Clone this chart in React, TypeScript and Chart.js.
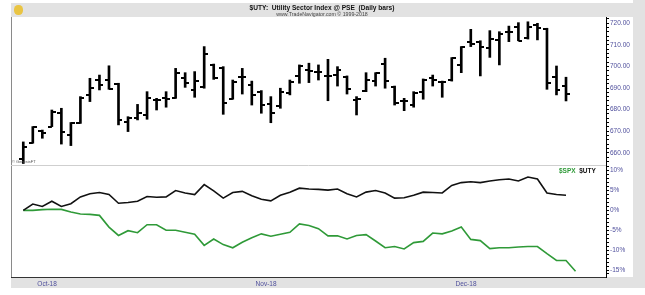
import React, { useEffect, useRef } from 'react';
import { Chart, registerables } from 'chart.js';

Chart.register(...registerables);

// Trading dates (last one only carries an S&P 500 value)
const dates = [
  '2018-09-26', '2018-09-27', '2018-09-28',
  '2018-10-01', '2018-10-02', '2018-10-03', '2018-10-04', '2018-10-05',
  '2018-10-08', '2018-10-09', '2018-10-10', '2018-10-11', '2018-10-12',
  '2018-10-15', '2018-10-16', '2018-10-17', '2018-10-18', '2018-10-19',
  '2018-10-22', '2018-10-23', '2018-10-24', '2018-10-25', '2018-10-26',
  '2018-10-29', '2018-10-30', '2018-10-31',
  '2018-11-01', '2018-11-02',
  '2018-11-05', '2018-11-06', '2018-11-07', '2018-11-08', '2018-11-09',
  '2018-11-12', '2018-11-13', '2018-11-14', '2018-11-15', '2018-11-16',
  '2018-11-19', '2018-11-20', '2018-11-21', '2018-11-23',
  '2018-11-26', '2018-11-27', '2018-11-28', '2018-11-29', '2018-11-30',
  '2018-12-03', '2018-12-04', '2018-12-06', '2018-12-07',
  '2018-12-10', '2018-12-11', '2018-12-12', '2018-12-13', '2018-12-14',
  '2018-12-17', '2018-12-18', '2018-12-19',
];

// $UTY daily OHLC
const utyOpen = [
  657, 664.4, 670, 672.1, 678.3, 668.2, 673.6, 686.8, 693.7, 693.7,
  692, 674.4, 676, 677.5, 684.4, 685.2, 685.2, 694.5, 689.1, 690.3,
  700.8, 699.5, 684.8, 695, 691.4, 688.3, 682.6, 681.7, 687.8, 695.6,
  698.4, 697.6, 695.6, 696, 695.2, 684.4, 688.6, 693.2, 701.1, 690.3,
  684.1, 682.1, 688.3, 694.8, 692.8, 693.7, 700.7, 711.5, 711.5, 708.7,
  712.3, 716.1, 718.1, 713, 719.2, 717.4, 695, 690.9,
];
const utyHigh = [
  665, 672.1, 670.5, 679.8, 680.6, 674, 686, 694.5, 696, 700.3,
  692.2, 676.7, 682.4, 688.3, 685.2, 688.3, 699.1, 697.1, 697.6, 709.2,
  701.1, 699.9, 693.7, 699.1, 693.2, 688.8, 686, 689.9, 693.7, 700.7,
  701.5, 700.7, 703.3, 699.9, 695.6, 686, 697.1, 697.1, 703.8, 690.9,
  685.2, 688.3, 694.2, 696, 693.2, 704.1, 709.2, 717.2, 711.9, 716.6,
  716.1, 718.7, 720.3, 720.7, 720, 717.7, 700.2, 695,
];
const utyLow = [
  655, 664.4, 666.7, 672.1, 664, 663.3, 673.6, 683.7, 689.1, 689.4,
  672.9, 669.8, 675.2, 675.5, 679.8, 681.1, 685.2, 690.3, 685.7, 689.9,
  694, 677.8, 684.8, 687.2, 682.1, 678.3, 673.9, 680.6, 686.8, 692.2,
  692.5, 693.7, 684.1, 690.9, 687.2, 677.5, 688.3, 690.9, 689.9, 682.1,
  679.5, 681.1, 684.8, 690.9, 685.7, 693.2, 697.1, 709.2, 695.6, 704.2,
  700.7, 711.5, 711.9, 712.7, 712.3, 689.4, 686.8, 684,
];
const utyClose = [
  662.8, 671.8, 669.3, 679, 669.8, 673.6, 685.2, 689.9, 691.4, 689.4,
  675.2, 676, 678.3, 685.2, 684.4, 684.8, 696.8, 692.5, 693.2, 705.6,
  694.5, 682.9, 693, 695, 686.8, 682.1, 678.6, 688.3, 693, 700.2,
  698, 697.3, 695.6, 698.4, 689.5, 684.8, 693.7, 697, 693.2, 682.9,
  684.1, 687.6, 693.7, 693.7, 692.8, 703.8, 708.9, 710.4, 709.2, 712.6,
  714.9, 716.1, 711.9, 718.4, 717.7, 692.2, 689.1, 687.2,
];

// Relative performance (%) in the lower panel
const utyPct = [
  0, 1.6, 1.0, 2.3, 1.0, 1.7, 3.4, 4.2, 4.5, 4.0,
  1.8, 2.0, 2.3, 3.5, 3.3, 3.4, 5.0, 4.4, 4.0, 6.5,
  4.9, 3.1, 4.5, 4.8, 3.7, 2.8, 2.4, 3.8, 4.6, 5.6,
  5.4, 5.3, 5.1, 5.4, 4.2, 3.4, 4.6, 5.0, 4.4, 3.1,
  3.2, 3.8, 4.6, 4.5, 4.4, 6.3, 7.0, 7.2, 7.0, 7.4,
  7.7, 7.9, 7.4, 8.4, 7.9, 4.4, 4.0, 3.8,
];
const spxPct = [
  0, 0, 0.2, 0.3, 0.25, -0.4, -0.9, -1.0, -1.25, -4.2,
  -6.3, -5.1, -5.6, -3.6, -3.6, -5.0, -5.0, -5.5, -6.0, -8.8,
  -7.2, -8.6, -9.4, -8.0, -6.9, -5.9, -6.5, -6.0, -5.5, -3.4,
  -3.8, -4.6, -6.4, -6.4, -7.2, -6.3, -6.1, -7.7, -9.4, -9.1,
  -9.7, -8.1, -7.8, -5.7, -5.9, -5.2, -4.2, -7.3, -7.6, -9.6,
  -9.4, -9.4, -9.2, -9.1, -9.1, -10.9, -12.6, -12.6, -15.3,
];

const monthLabels = ['Oct-18', 'Nov-18', 'Dec-18'];
const monthKeys = ['2018-10', '2018-11', '2018-12'];

const FONT = '"Liberation Sans", Arial, Helvetica, sans-serif';
const AXIS_BLUE = '#4f4f9c';
const GREEN = '#2f9a38';
const BAND = '#e2e2e2';

function tickImage(side: 'left' | 'right') {
  const c = document.createElement('canvas');
  c.width = 8;
  c.height = 2;
  const g = c.getContext('2d')!;
  g.fillStyle = '#000';
  g.fillRect(side === 'left' ? 0 : 4, 0, 4, 2);
  return c;
}

const framePlugin = {
  id: 'frame',
  beforeDatasetsDraw(chart: any) {
    const { ctx, chartArea: a, scales } = chart;
    ctx.save();
    ctx.lineWidth = 1;
    ctx.strokeStyle = '#8a8a8a';
    ctx.beginPath();
    ctx.moveTo(a.left + 0.5, a.top);
    ctx.lineTo(a.left + 0.5, a.bottom);
    ctx.stroke();
    const sy = Math.round(scales.y.bottom) + 0.5;
    ctx.strokeStyle = '#cfcfcf';
    ctx.beginPath();
    ctx.moveTo(a.left, sy);
    ctx.lineTo(a.right, sy);
    ctx.stroke();
    ctx.restore();
  },
};

export default function App() {
  const ref = useRef<HTMLCanvasElement>(null);

  useEffect(() => {
    if (!ref.current) return;
    const leftTick = tickImage('left');
    const rightTick = tickImage('right');
    const monthPos = monthKeys.map((k) => dates.findIndex((d) => d.startsWith(k)) - 0.5);

    const chart = new Chart(ref.current, {
      type: 'bar',
      data: {
        datasets: [
          {
            type: 'bar',
            data: utyHigh.map((h, i) => ({ x: i, y: [utyLow[i], h] })) as any,
            backgroundColor: '#000',
            barThickness: 2,
            grouped: false,
            yAxisID: 'y',
          } as any,
          {
            type: 'line',
            data: utyOpen.map((v, i) => ({ x: i, y: v })),
            showLine: false,
            pointStyle: leftTick as any,
            pointRadius: 3,
            yAxisID: 'y',
          },
          {
            type: 'line',
            data: utyClose.map((v, i) => ({ x: i, y: v })),
            showLine: false,
            pointStyle: rightTick as any,
            pointRadius: 3,
            yAxisID: 'y',
          },
          {
            type: 'line',
            label: '$UTY',
            data: utyPct.map((v, i) => ({ x: i, y: v })),
            borderColor: '#111',
            borderWidth: 1.6,
            pointRadius: 0,
            tension: 0,
            yAxisID: 'pct',
          },
          {
            type: 'line',
            label: '$SPX',
            data: spxPct.map((v, i) => ({ x: i, y: v })),
            borderColor: GREEN,
            borderWidth: 1.6,
            pointRadius: 0,
            tension: 0,
            yAxisID: 'pct',
          },
        ],
      },
      options: {
        animation: false,
        responsive: false,
        devicePixelRatio: 1,
        events: [],
        layout: { padding: { left: 11, top: 17, right: 12, bottom: 7 } },
        plugins: { legend: { display: false }, tooltip: { enabled: false }, title: { display: false } },
        scales: {
          x: {
            type: 'linear',
            min: -1.29,
            max: 61.2,
            offset: false,
            grid: { display: false, drawTicks: false },
            border: { display: true, color: '#333' },
            afterBuildTicks: (s: any) => {
              s.ticks = monthPos.map((v) => ({ value: v }));
            },
            afterFit: (s: any) => {
              s.height = 11;
            },
            ticks: {
              autoSkip: false,
              maxRotation: 0,
              padding: 3,
              color: AXIS_BLUE,
              font: { family: FONT, size: 6.5 },
              callback: (_v: any, i: number) => monthLabels[i],
            },
          },
          y: {
            type: 'linear',
            position: 'right',
            stack: 'panels',
            stackWeight: 148,
            min: 654.3,
            max: 722.92,
            grid: { drawOnChartArea: false, drawTicks: true, tickLength: 3, tickColor: '#000' },
            border: { display: true, color: '#000' },
            afterBuildTicks: (s: any) => {
              const t: any[] = [];
              for (let v = 656; v <= 722; v += 2) t.push({ value: v });
              s.ticks = t;
            },
            afterFit: (s: any) => {
              s.width = 27;
            },
            ticks: {
              autoSkip: false,
              padding: 1,
              color: AXIS_BLUE,
              font: { family: FONT, size: 6.5 },
              callback: (v: any) => (Number(v) % 10 === 0 ? Number(v).toFixed(2) : ''),
            },
          },
          pct: {
            type: 'linear',
            position: 'right',
            stack: 'panels',
            stackWeight: 112,
            min: -16.76,
            max: 11.43,
            grid: { drawOnChartArea: false, drawTicks: true, tickLength: 3, tickColor: '#000' },
            border: { display: true, color: '#000' },
            afterBuildTicks: (s: any) => {
              const t: any[] = [];
              for (let v = -16; v <= 11; v += 1) t.push({ value: v });
              s.ticks = t;
            },
            afterFit: (s: any) => {
              s.width = 27;
            },
            ticks: {
              autoSkip: false,
              padding: 1,
              color: AXIS_BLUE,
              font: { family: FONT, size: 6.5 },
              callback: (v: any) => (Number(v) % 5 === 0 ? `${v}%` : ''),
            },
          },
        },
      } as any,
      plugins: [framePlugin],
    });
    return () => chart.destroy();
  }, []);

  return (
    <div
      style={{
        position: 'absolute',
        left: 0,
        top: 0,
        width: 645,
        height: 295,
        background: '#fff',
        fontFamily: FONT,
        overflow: 'hidden',
      }}
    >
      <div style={{ position: 'absolute', left: 11, top: 3, width: 622, height: 14, background: BAND }} />
      <div style={{ position: 'absolute', left: 633, top: 0, width: 12, height: 288, background: BAND }} />
      <div style={{ position: 'absolute', left: 11, top: 277, width: 622, height: 11, background: BAND }} />
      <div
        style={{
          position: 'absolute',
          left: 14,
          top: 5,
          width: 9,
          height: 10,
          borderRadius: '45%',
          background: '#e9c443',
        }}
      />
      <canvas ref={ref} width={645} height={295} style={{ position: 'absolute', left: 0, top: 0 }} />
      <div
        style={{
          position: 'absolute',
          left: 322,
          top: 4,
          transform: 'translateX(-50%) scaleX(0.88)',
          fontSize: 7.5,
          lineHeight: '8px',
          fontWeight: 'bold',
          whiteSpace: 'pre',
          color: '#111',
        }}
      >
        {'$UTY:  Utility Sector Index @ PSE  (Daily bars)'}
      </div>
      <div
        style={{
          position: 'absolute',
          left: 322,
          top: 12,
          transform: 'translateX(-50%) scaleX(1.05)',
          fontSize: 5,
          lineHeight: '5px',
          whiteSpace: 'pre',
          color: '#444',
        }}
      >
        {'www.TradeNavigator.com © 1999-2018'}
      </div>
      <div
        style={{
          position: 'absolute',
          left: 12,
          top: 160,
          fontSize: 4,
          lineHeight: '4px',
          whiteSpace: 'pre',
          color: '#555',
        }}
      >
        {'© GenesisFT'}
      </div>
      <div
        style={{
          position: 'absolute',
          left: 559,
          top: 166.5,
          fontSize: 6.5,
          lineHeight: '7px',
          fontWeight: 'bold',
          whiteSpace: 'pre',
        }}
      >
        <span style={{ color: GREEN }}>$SPX</span>
        <span style={{ color: '#111' }}>{'  $UTY'}</span>
      </div>
    </div>
  );
}
